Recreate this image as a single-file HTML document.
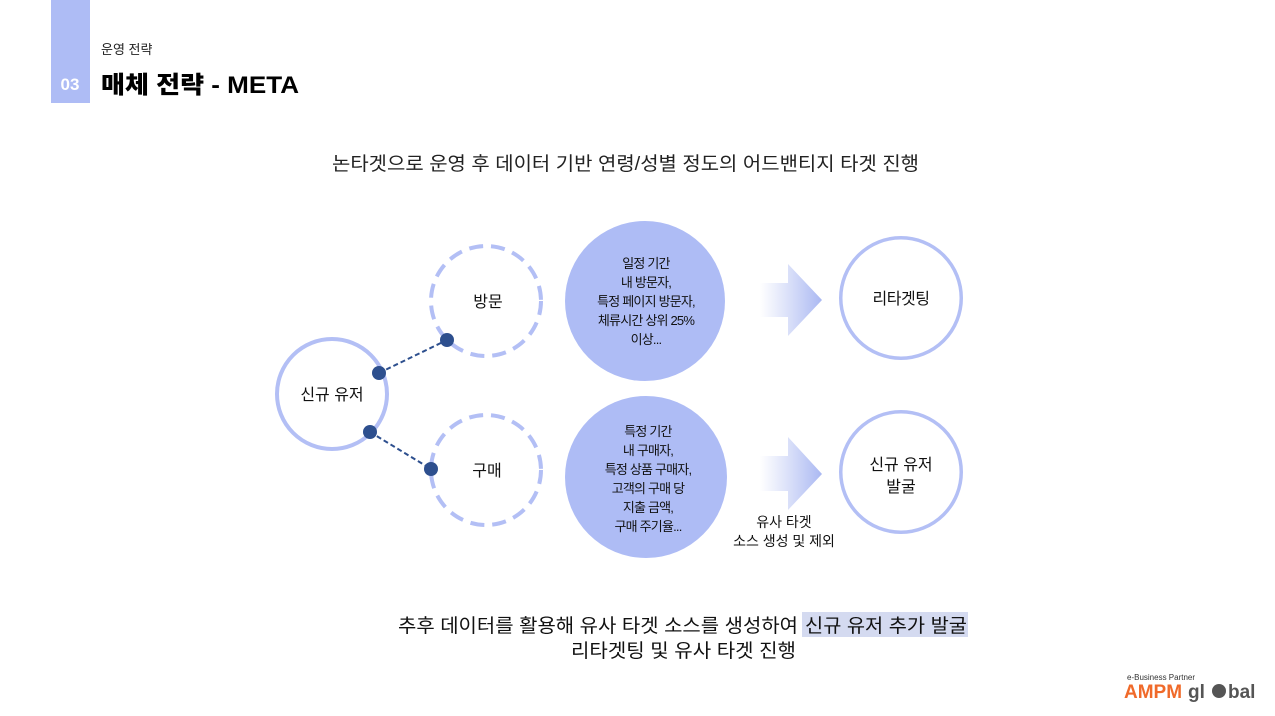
<!DOCTYPE html>
<html><head><meta charset="utf-8"><style>
html,body{margin:0;padding:0;background:#fff;width:1275px;height:716px;overflow:hidden}
svg text{font-family:"Liberation Sans","Noto Sans CJK KR",sans-serif}
</style></head><body>
<svg width="1275" height="716" viewBox="0 0 1275 716" xmlns="http://www.w3.org/2000/svg">
<defs>
<linearGradient id="ag" x1="0" x2="1" y1="0" y2="0">
<stop offset="0" stop-color="#b3bff2" stop-opacity="0"/>
<stop offset="1" stop-color="#aab8f2"/>
</linearGradient>
</defs>
<rect x="51" y="0" width="39" height="103" fill="#aebcf5"/>
<text x="70" y="90" font-size="17" font-weight="bold" fill="#fff" text-anchor="middle">03</text>
<text x="101" y="54" font-size="13" fill="#222">운영 전략</text>
<text x="101" y="93" font-size="24" font-weight="900" fill="#000" textLength="198" lengthAdjust="spacingAndGlyphs">매체 전략 - META</text>

<text x="332" y="170" font-size="19" fill="#222" textLength="587" lengthAdjust="spacingAndGlyphs">논타겟으로 운영 후 데이터 기반 연령/성별 정도의 어드밴티지 타겟 진행</text>

<circle cx="332" cy="394" r="55" fill="#fff" stroke="#b3bff5" stroke-width="4"/>
<text x="332" y="400" font-size="16" fill="#111" text-anchor="middle">신규 유저</text>

<circle cx="486" cy="301" r="55" fill="#fff" stroke="#b3bff5" stroke-width="4" stroke-dasharray="14 8"/>
<text x="488" y="307" font-size="16" fill="#111" text-anchor="middle">방문</text>
<circle cx="486" cy="470" r="55" fill="#fff" stroke="#b3bff5" stroke-width="4" stroke-dasharray="14 8"/>
<text x="487" y="476" font-size="16" fill="#111" text-anchor="middle">구매</text>

<line x1="379" y1="373" x2="447" y2="340" stroke="#2d4f8e" stroke-width="2" stroke-dasharray="5 3"/>
<line x1="370" y1="432" x2="431" y2="469" stroke="#2d4f8e" stroke-width="2" stroke-dasharray="5 3"/>
<circle cx="379" cy="373" r="7" fill="#2d4f8e"/>
<circle cx="447" cy="340" r="7" fill="#2d4f8e"/>
<circle cx="370" cy="432" r="7" fill="#2d4f8e"/>
<circle cx="431" cy="469" r="7" fill="#2d4f8e"/>

<circle cx="645" cy="301" r="80" fill="#aebcf5"/>
<g font-size="13" fill="#111" text-anchor="middle" letter-spacing="-0.8">
<text x="646" y="268">일정 기간</text>
<text x="646" y="287">내 방문자,</text>
<text x="646" y="306">특정 페이지 방문자,</text>
<text x="646" y="325">체류시간 상위 25%</text>
<text x="646" y="344">이상...</text>
</g>
<circle cx="646" cy="477" r="81" fill="#aebcf5"/>
<g font-size="13" fill="#111" text-anchor="middle" letter-spacing="-0.8">
<text x="648" y="436">특정 기간</text>
<text x="648" y="455">내 구매자,</text>
<text x="648" y="474">특정 상품 구매자,</text>
<text x="648" y="493">고객의 구매 당</text>
<text x="648" y="512">지출 금액,</text>
<text x="648" y="531">구매 주기율...</text>
</g>

<polygon points="760,283 788,283 788,264 822,300 788,336 788,317 760,317" fill="url(#ag)"/>
<polygon points="760,456 788,456 788,437 822,474 788,510 788,491 760,491" fill="url(#ag)"/>

<circle cx="901" cy="298" r="60" fill="#fff" stroke="#b3bff5" stroke-width="4"/>
<circle cx="901" cy="298" r="58" fill="none" stroke="#fff" stroke-width="1"/>
<text x="901" y="304" font-size="16" fill="#111" text-anchor="middle" letter-spacing="-0.5">리타겟팅</text>
<circle cx="901" cy="472" r="60" fill="#fff" stroke="#b3bff5" stroke-width="4"/>
<circle cx="901" cy="472" r="58" fill="none" stroke="#fff" stroke-width="1"/>
<text x="901" y="470" font-size="16" fill="#111" text-anchor="middle">신규 유저</text>
<text x="901" y="492" font-size="16" fill="#111" text-anchor="middle">발굴</text>

<text x="784" y="527" font-size="14" fill="#111" text-anchor="middle">유사 타겟</text>
<text x="784" y="546" font-size="14" fill="#111" text-anchor="middle">소스 생성 및 제외</text>

<rect x="802" y="612" width="166" height="25" fill="#d4daf0"/>
<text x="398" y="632" font-size="19" fill="#111" textLength="400" lengthAdjust="spacingAndGlyphs">추후 데이터를 활용해 유사 타겟 소스를 생성하여</text>
<text x="805" y="632" font-size="19" fill="#111" textLength="162" lengthAdjust="spacingAndGlyphs">신규 유저 추가 발굴</text>
<text x="571" y="657" font-size="19" fill="#111" textLength="225" lengthAdjust="spacingAndGlyphs">리타겟팅 및 유사 타겟 진행</text>

<text x="1127" y="680" font-size="8" fill="#333">e-Business Partner</text>
<text x="1124" y="698" font-size="19" font-weight="bold" fill="#f06a2a">AMPM</text>
<text x="1188" y="698" font-size="19" font-weight="bold" fill="#555">gl</text>
<circle cx="1219" cy="691" r="7" fill="#555"/>
<text x="1228" y="698" font-size="19" font-weight="bold" fill="#555">bal</text>
</svg>
</body></html>
